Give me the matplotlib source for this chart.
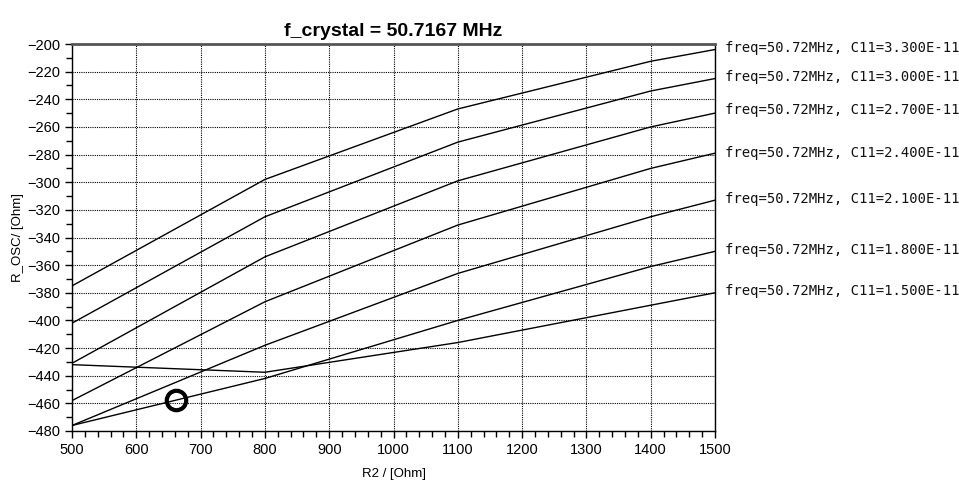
import numpy as np
import matplotlib
matplotlib.use('Agg')
import matplotlib.pyplot as plt
from matplotlib.ticker import MultipleLocator

# R2 sweep points (Ohm)
r2 = [500, 800, 1100, 1400, 1500]

# C11 values and R_OSC curves
c11_labels = ['3.300E-11', '3.000E-11', '2.700E-11', '2.400E-11',
              '2.100E-11', '1.800E-11', '1.500E-11']
r_osc_33 = [-375, -298, -247, -212.5, -204]
r_osc_30 = [-402, -325, -271, -234, -225]
r_osc_27 = [-431, -354, -299, -260, -250]
r_osc_24 = [-458, -386.5, -331, -290, -279]
r_osc_21 = [-476, -418, -366, -325, -313]
r_osc_18 = [-476, -442, -400, -361, -350]
r_osc_15 = [-432, -437.5, -416, -389, -380]
curves = [r_osc_33, r_osc_30, r_osc_27, r_osc_24, r_osc_21, r_osc_18, r_osc_15]

# label y positions (data units) to the right of the plot
label_y = [-203, -224, -248, -279, -312, -349, -379]

# marker point
marker_x = [662]
marker_y = [-457.5]

plt.rcParams['font.family'] = ['Liberation Sans', 'DejaVu Sans']

fig = plt.figure(figsize=(9.59, 4.83), dpi=100)
ax = fig.add_axes([72 / 959, 1 - 431 / 483, (715 - 72) / 959, (431 - 44) / 483])

for y in curves:
    ax.plot(r2, y, color='black', lw=1.0)

ax.plot(marker_x, marker_y, 'o', ms=14, mfc='none', mec='black', mew=3)

for lab, yy in zip(c11_labels, label_y):
    ax.text(1.015, yy, f'freq=50.72MHz, C11={lab}', transform=ax.get_yaxis_transform(),
            family='DejaVu Sans Mono', fontsize=10, color='#111111',
            va='center', ha='left', clip_on=False)

ax.set_xlim(500, 1500)
ax.set_ylim(-480, -200)
ax.xaxis.set_major_locator(MultipleLocator(100))
ax.xaxis.set_minor_locator(MultipleLocator(20))
ax.yaxis.set_major_locator(MultipleLocator(20))
ax.yaxis.set_minor_locator(MultipleLocator(10))
ax.tick_params(which='major', direction='out', length=5, width=1, labelsize=10.5)
ax.tick_params(which='minor', direction='out', length=4, width=1)
ax.grid(True, which='major', color='black', linestyle=(0, (1, 1)), linewidth=0.8)

for s in ['left', 'right', 'bottom']:
    ax.spines[s].set_linewidth(1.0)
ax.spines['top'].set_linewidth(2.0)
ax.spines['top'].set_color('#555555')

ax.set_title('f_crystal = 50.7167 MHz', fontsize=14, fontweight='bold', pad=6)
ax.set_xlabel('R2 / [Ohm]', fontsize=9.5, labelpad=8)
ax.set_ylabel('R_OSC/ [Ohm]', fontsize=9.5)
ax.yaxis.set_label_coords(-0.074, 0.5)

fig.savefig('out.png', dpi=100)
